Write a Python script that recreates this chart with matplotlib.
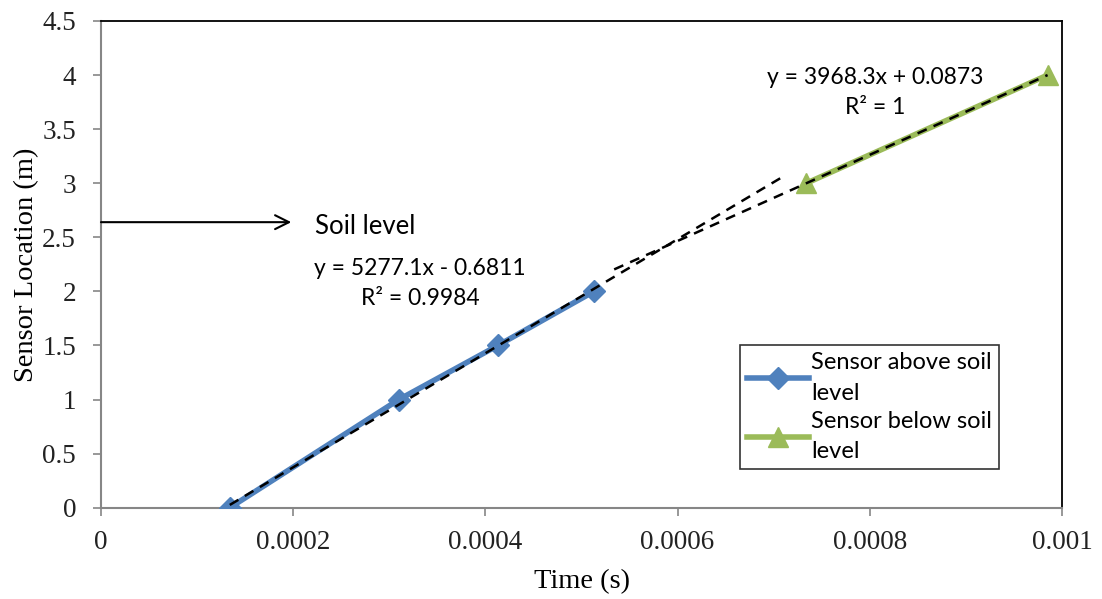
import numpy as np
import matplotlib.pyplot as plt

# sensor arrival times (s) and sensor locations (m)
time_above = [0.000134, 0.000310, 0.000413, 0.000513]
loc_above = [0, 1, 1.5, 2]
time_below = [0.000734, 0.000985]
loc_below = [3, 4]

eq_above = "y = 5277.1x - 0.6811\nR² = 0.9984"
eq_below = "y = 3968.3x + 0.0873\nR² = 1"
soil_level = 2.64
forecast = 0.0002

blue = "#4F81BD"
green = "#9BBB59"
grey = "#868686"
sans = ["Lato", "DejaVu Sans"]
serif = "Liberation Serif"

fig = plt.figure(figsize=(11.02, 5.99), dpi=100)
ax = fig.add_axes([101 / 1102, (599 - 507.7) / 599, 961 / 1102, 486.7 / 599])

ax.plot(time_above, loc_above, color=blue, lw=4, marker="D", ms=11,
        label="Sensor above soil\nlevel", zorder=3)
ax.plot(time_below, loc_below, color=green, lw=4, marker="^", ms=15,
        label="Sensor below soil\nlevel", zorder=3)

# linear trendlines (above: forward forecast, below: backward forecast)
p1 = np.polyfit(time_above, loc_above, 1)
xa = np.array([time_above[0], time_above[-1] + forecast])
ax.plot(xa, np.polyval(p1, xa), "k--", lw=1.8, dashes=(4, 3), zorder=4)
p2 = np.polyfit(time_below, loc_below, 1)
xb = np.array([time_below[0] - forecast, time_below[-1]])
ax.plot(xb, np.polyval(p2, xb), "k--", lw=1.8, dashes=(4, 3), zorder=4)

ax.text(0.000332, 2.07, eq_above, ha="center", va="center", fontsize=16.5,
        family=sans, linespacing=1.55)
ax.text(0.000806, 3.84, eq_below, ha="center", va="center", fontsize=16.5,
        family=sans, linespacing=1.55)

ax.annotate("", xy=(0.000198, soil_level), xytext=(0, soil_level),
            arrowprops=dict(arrowstyle="->", lw=1.5, color="black",
                            mutation_scale=25, shrinkA=0, shrinkB=0),
            annotation_clip=False)
ax.text(0.000223, soil_level - 0.04, "Soil level", ha="left", va="center",
        fontsize=18.5, family=sans)

ax.set_xlim(0, 0.001)
ax.set_ylim(0, 4.5)
ax.set_xticks([0, 0.0002, 0.0004, 0.0006, 0.0008, 0.001])
ax.set_xticklabels(["0", "0.0002", "0.0004", "0.0006", "0.0008", "0.001"])
ax.set_yticks(np.arange(0, 4.6, 0.5))
ax.set_yticklabels(["0", "0.5", "1", "1.5", "2", "2.5", "3", "3.5", "4", "4.5"])
for lab in ax.get_xticklabels() + ax.get_yticklabels():
    lab.set_family(serif)
    lab.set_fontsize(19.5)
    lab.set_color("#222222")
ax.tick_params(axis="both", direction="out", length=6, width=1.2, color=grey)
ax.tick_params(axis="x", pad=10)
ax.tick_params(axis="y", pad=12)

for s in ["left", "bottom"]:
    ax.spines[s].set_color(grey)
    ax.spines[s].set_linewidth(1.5)
    ax.spines[s].set_zorder(2.5)
for s in ["top", "right"]:
    ax.spines[s].set_color("black")
    ax.spines[s].set_linewidth(1.3)

ax.set_xlabel("Time (s)", family=serif, fontsize=20.5, labelpad=10)
ax.set_ylabel("Sensor Location (m)", family=serif, fontsize=20.5, labelpad=2)

leg = ax.legend(loc="upper left", bbox_to_anchor=(0.665, 0.334),
                prop={"family": sans, "size": 17}, frameon=True,
                fancybox=False, edgecolor="black", handlelength=2.6,
                borderpad=0.3, labelspacing=0.3, handletextpad=0.1,
                borderaxespad=0)
for t in leg.get_texts():
    t.set_linespacing(1.55)
leg.get_frame().set_linewidth(1.2)

fig.savefig("out.png", dpi=100)
